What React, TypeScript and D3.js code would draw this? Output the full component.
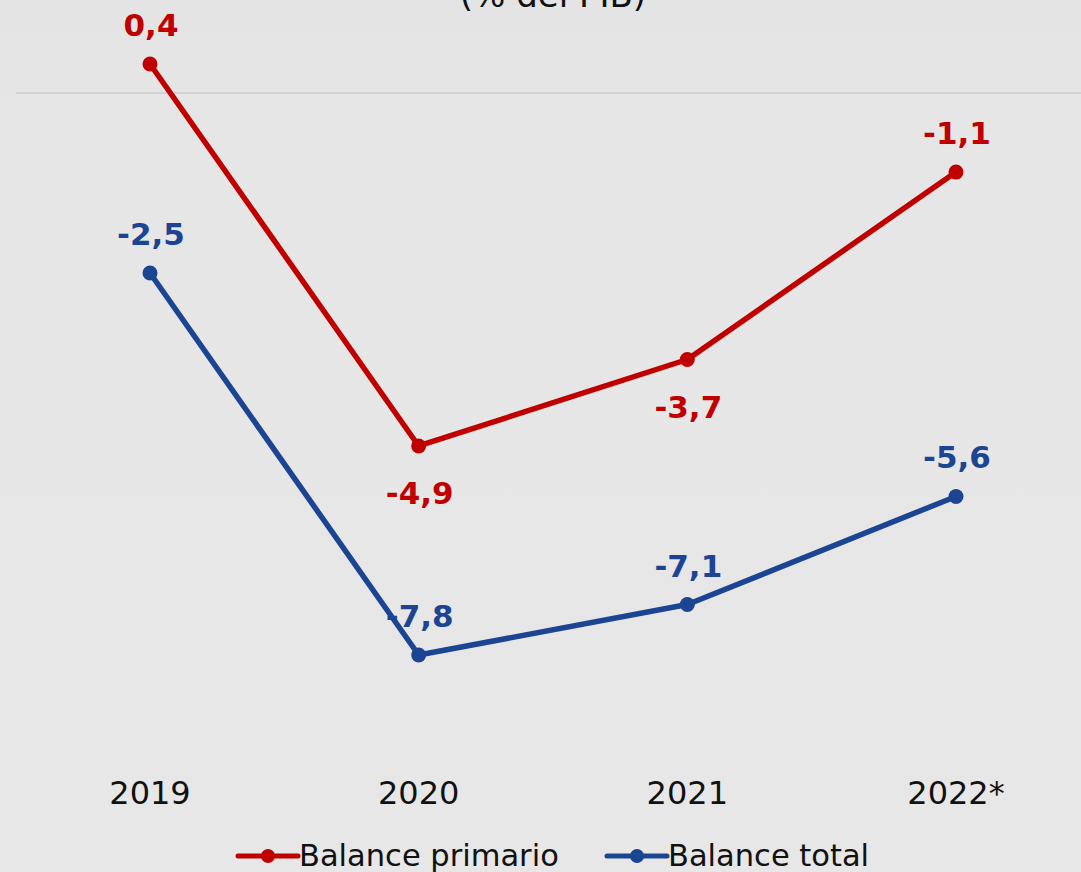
import React from "react";
import * as d3 from "d3";

const years = ["2019", "2020", "2021", "2022*"];
const primario = [0.4, -4.9, -3.7, -1.1];
const total = [-2.5, -7.8, -7.1, -5.6];
// label placement: 1 = above, -1 = below
const primarioPos = [1, -1, -1, 1];
const totalPos = [1, 1, 1, 1];
const seriesNames = ["Balance primario", "Balance total"];
const title = "(% del PIB)";

const W = 1081;
const H = 872;
const RED = "#c00000";
const BLUE = "#1b4592";
const FONT = "'DejaVu Sans', sans-serif";

const fmt = (v: number) => v.toFixed(1).replace(".", ",");

export default function App() {
  const x = d3.scalePoint<string>().domain(years).range([150, 956]);
  const y = d3.scaleLinear().domain([0.4, -7.8]).range([64, 655]);
  const line = d3
    .line<number>()
    .x((_, i) => x(years[i]) as number)
    .y((d) => y(d));

  const series = [
    { name: seriesNames[0], data: primario, pos: primarioPos, color: RED },
    { name: seriesNames[1], data: total, pos: totalPos, color: BLUE },
  ];

  return (
    <svg
      width={W}
      height={H}
      style={{ position: "absolute", left: 0, top: 0, display: "block" }}
    >
      <defs>
        <linearGradient id="bg" x1="0" y1="0" x2="0" y2="1">
          <stop offset="0" stopColor="#e4e4e4" />
          <stop offset="0.15" stopColor="#e6e6e6" />
          <stop offset="1" stopColor="#e7e7e7" />
        </linearGradient>
      </defs>
      <rect width={W} height={H} fill="url(#bg)" />
      <text
        x={553}
        y={7}
        textAnchor="middle"
        fontFamily={FONT}
        fontSize={34}
        fill="#111"
      >
        {title}
      </text>
      <line x1={16} x2={W} y1={93} y2={93} stroke="#d2d2d2" strokeWidth={2} />

      {series.map((s) => (
        <g key={s.name}>
          <path
            d={line(s.data) || ""}
            fill="none"
            stroke={s.color}
            strokeWidth={5.5}
            strokeLinejoin="round"
          />
          {s.data.map((v, i) => (
            <circle
              key={i}
              cx={x(years[i]) as number}
              cy={y(v)}
              r={7.5}
              fill={s.color}
            />
          ))}
          {s.data.map((v, i) => (
            <text
              key={"t" + i}
              x={(x(years[i]) as number) + 1}
              y={s.pos[i] > 0 ? y(v) - 28 : y(v) + 58}
              textAnchor="middle"
              fontFamily={FONT}
              fontWeight="bold"
              fontSize={31}
              fill={s.color}
            >
              {fmt(v)}
            </text>
          ))}
        </g>
      ))}

      {years.map((yr) => (
        <text
          key={yr}
          x={x(yr) as number}
          y={804}
          textAnchor="middle"
          fontFamily={FONT}
          fontSize={32}
          fill="#111"
        >
          {yr}
        </text>
      ))}

      {series.map((s, i) => {
        const x0 = i === 0 ? 238 : 607;
        return (
          <g key={"lg" + i}>
            <line
              x1={x0}
              x2={x0 + 60}
              y1={856}
              y2={856}
              stroke={s.color}
              strokeWidth={5}
              strokeLinecap="round"
            />
            <circle cx={x0 + 30} cy={856} r={7} fill={s.color} />
            <text
              x={x0 + 61}
              y={866}
              fontFamily={FONT}
              fontSize={30.5}
              fill="#111"
            >
              {s.name}
            </text>
          </g>
        );
      })}
    </svg>
  );
}
